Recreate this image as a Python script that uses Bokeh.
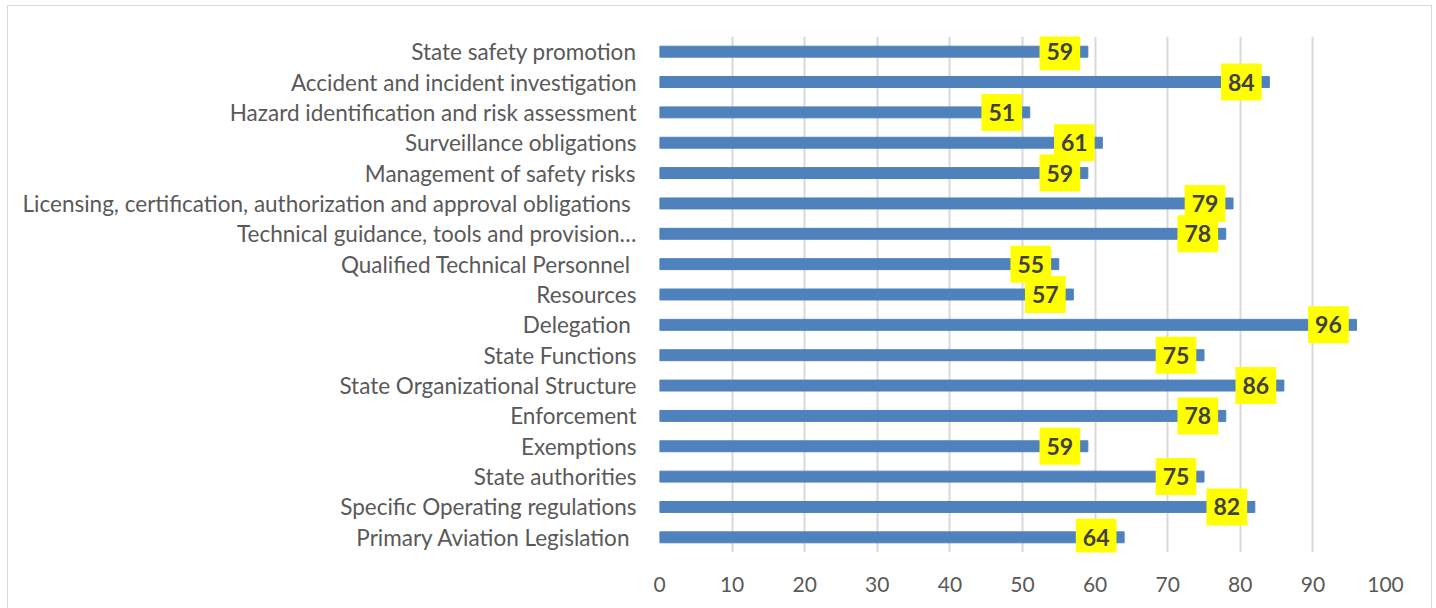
from bokeh.plotting import figure
from bokeh.models import ColumnDataSource, FactorRange, Range1d, FixedTicker
from bokeh.core.properties import value
from bokeh.embed import file_html
from bokeh.resources import INLINE

categories = [
    "State safety promotion",
    "Accident and incident investigation",
    "Hazard identification and risk assessment",
    "Surveillance obligations",
    "Management of safety risks",
    "Licensing, certification, authorization and  approval obligations",
    "Technical guidance, tools and provision…",
    "Qualified Technical Personnel ",
    "Resources",
    "Delegation ",
    "State Functions",
    "State Organizational Structure",
    "Enforcement",
    "Exemptions",
    "State authorities",
    "Specific Operating regulations",
    "Primary Aviation Legislation ",
]
scores = [59, 84, 51, 61, 59, 79, 78, 55, 57, 96, 75, 86, 78, 59, 75, 82, 64]
x_ticks = [0, 10, 20, 30, 40, 50, 60, 70, 80, 90, 100]

src = ColumnDataSource(dict(cat=categories, val=scores, lab=[str(v) for v in scores]))

p = figure(
    width=1425, height=604,
    y_range=FactorRange(factors=list(reversed(categories))),
    x_range=Range1d(0, 100),
    output_backend="svg", toolbar_location=None,
    min_border_left=651, min_border_right=48, min_border_top=30, min_border_bottom=58,
)
p.styles = {"border": "1px solid #d9d9d9", "margin-left": "7px", "margin-top": "5px"}
p.outline_line_color = None
p.background_fill_color = "white"
p.border_fill_color = "white"

p.hbar(y="cat", right="val", left=0, height=0.36, color="#4F81BD", source=src)

p.text(x="val", y="cat", text="lab", source=src, x_offset=-28,
       text_align="center", text_baseline="middle",
       text_font=value("Lato"), text_font_style="bold", text_font_size="23px",
       text_color="#404040", background_fill_color="#FFFF00", padding=(7, 10))

p.xaxis.ticker = FixedTicker(ticks=x_ticks)
p.xaxis.axis_line_color = None
p.xaxis.major_tick_line_color = None
p.xaxis.minor_tick_line_color = None
p.xaxis.major_label_text_font = "Lato"
p.xaxis.major_label_text_font_size = "21px"
p.xaxis.major_label_text_color = "#595959"
p.xaxis.major_label_standoff = 18

p.yaxis.axis_line_color = None
p.yaxis.major_tick_line_color = None
p.yaxis.minor_tick_line_color = None
p.yaxis.major_label_text_font = "Lato"
p.yaxis.major_label_text_font_size = "22.5px"
p.yaxis.major_label_text_color = "#595959"
p.yaxis.major_label_standoff = 17

p.xgrid.grid_line_color = "#d9d9d9"
p.xgrid.grid_line_width = 2
p.ygrid.grid_line_color = None

open("out.html", "w").write(file_html(p, INLINE))
